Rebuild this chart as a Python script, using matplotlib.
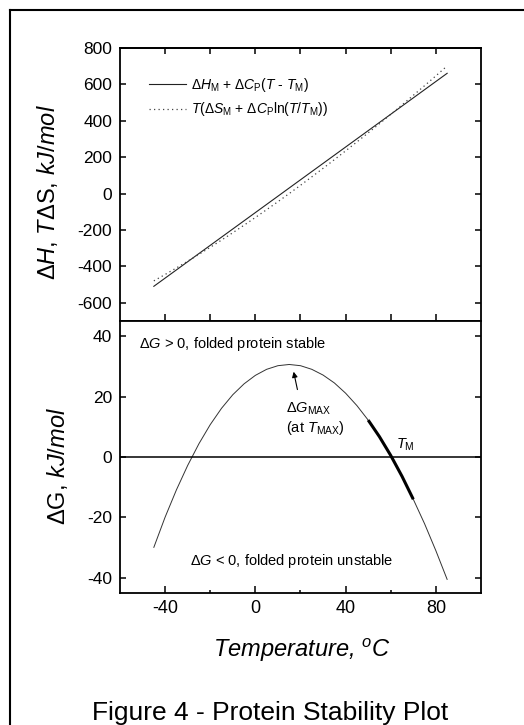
import numpy as np
import matplotlib
matplotlib.use("Agg")
import matplotlib.pyplot as plt
from matplotlib.lines import Line2D

plt.rcParams['font.family'] = ['Liberation Sans', 'DejaVu Sans']
plt.rcParams['mathtext.fontset'] = 'custom'
plt.rcParams['mathtext.rm'] = 'Liberation Sans'
plt.rcParams['mathtext.it'] = 'Liberation Sans:italic'
plt.rcParams['mathtext.bf'] = 'Liberation Sans:bold'
plt.rcParams['axes.unicode_minus'] = False

# Temperature grid, degC
temps = [-45, -40, -35, -30, -25, -20, -15, -10, -5, 0, 5, 10, 15, 20,
         25, 30, 35, 40, 45, 50, 55, 60, 65, 70, 75, 80, 85]

# Enthalpy, kJ/mol
dH = [-509.2, -464.2, -419.2, -374.2, -329.2, -284.2, -239.2, -194.2, -149.2,
      -104.2, -59.2, -14.2, 30.9, 75.9, 120.9, 165.9, 210.9, 255.9, 300.9,
      345.9, 390.9, 435.9, 480.9, 525.9, 570.9, 615.9, 660.9]

# Entropy term T*dS, kJ/mol
TdS = [-479.3, -444.3, -408.3, -371.4, -333.6, -294.9, -255.3, -214.8, -173.4,
       -131.2, -88.2, -44.4, 0.3, 45.7, 91.9, 138.8, 186.4, 234.8, 283.9,
       333.7, 384.2, 435.4, 487.3, 539.9, 593.0, 646.9, 701.4]

# Free energy of unfolding, kJ/mol
dG = [-29.9, -19.9, -10.9, -2.8, 4.4, 10.7, 16.1, 20.6, 24.2, 27.0, 29.0,
      30.2, 30.6, 30.2, 29.0, 27.1, 24.5, 21.1, 17.0, 12.2, 6.7, 0.5, -6.4,
      -14.0, -22.1, -31.0, -40.5]

# range shown in bold around the melting temperature
tm_range = (50, 70)

ticks20 = [-40, -20, 0, 20, 40, 60, 80]

fig = plt.figure(figsize=(5.24, 7.25), dpi=100)
ax1 = fig.add_axes([0.2290, 0.5572, 0.6889, 0.3766])
ax2 = fig.add_axes([0.2290, 0.1821, 0.6889, 0.3752])

# --- panel du haut : dH et TdS
ax1.plot(temps, dH, color='#222222', lw=0.8,
         label='Δ$H_\\mathrm{M}$ + Δ$C_\\mathrm{P}$($T$ - $T_\\mathrm{M}$)')
ax1.plot(temps, TdS, color='#444444', lw=0.9, linestyle=(0, (1, 2.6)),
         label='$T$(Δ$S_\\mathrm{M}$ + Δ$C_\\mathrm{P}$ln($T$/$T_\\mathrm{M}$))')
ax1.set_xlim(-60, 100)
ax1.set_ylim(-700, 800)
ax1.set_yticks(np.arange(-600, 801, 200))
ax1.set_xticks(ticks20)
ax1.tick_params(axis='x', direction='inout', length=10, width=1.1,
                bottom=True, top=False, labelbottom=False)
ax1.tick_params(axis='y', direction='in', length=4.5, width=1.1,
                left=True, right=True, labelsize=12.5, pad=5.5)
top = ax1.secondary_xaxis('top')
top.set_xticks(ticks20)
top.tick_params(direction='in', length=4.5, width=1.1, labeltop=False)
top.spines['top'].set_linewidth(1.3)
ax1.set_ylabel('Δ$H$, $T$ΔS, $kJ/mol$', fontsize=17, va='center')
ax1.yaxis.set_label_coords(-0.2008, 0.4707)
ax1.legend(loc='upper left', bbox_to_anchor=(0.0803, 0.897), frameon=False,
           fontsize=10, handlelength=2.7, handletextpad=0.3,
           labelspacing=0.45, borderpad=0, borderaxespad=0)

# --- panel du bas : dG
t = np.array(temps)
g = np.array(dG)
ax2.plot(t, g, color='#333333', lw=0.7)
m = (t >= tm_range[0]) & (t <= tm_range[1])
ax2.plot(t[m], g[m], color='black', lw=2.2, solid_capstyle='butt')
ax2.axhline(0, color='black', lw=1.1)
ax2.set_xlim(-60, 100)
ax2.set_ylim(-45, 45)
ax2.set_xticks([-40, 0, 40, 80])
ax2.set_xticks([-20, 20, 60], minor=True)
ax2.set_yticks([-40, -20, 0, 20, 40])
ax2.tick_params(axis='x', which='major', direction='in', length=4.7, width=1.1,
                top=False, labelsize=13, pad=5)
ax2.tick_params(axis='x', which='minor', direction='in', length=2.2, width=1.1,
                top=False)
ax2.tick_params(axis='y', direction='in', length=4.5, width=1.1,
                left=True, right=True, labelsize=12.5, pad=5.5)
ax2.set_ylabel('ΔG, $kJ/mol$', fontsize=17, va='center')
ax2.yaxis.set_label_coords(-0.1731, 0.4669)
ax2.set_xlabel('Temperature, $^{o}$C', fontsize=17, fontstyle='italic', va='center')
ax2.xaxis.set_label_coords(0.504, -0.21)

ax2.text(-51.5, 36.2, 'Δ$G$ > 0, folded protein stable', fontsize=10.5, va='baseline')
ax2.text(-28.8, -35.9, 'Δ$G$ < 0, folded protein unstable', fontsize=10.5, va='baseline')
ax2.annotate('', xy=(16.7, 29.1), xytext=(18.9, 21.4),
             arrowprops=dict(arrowstyle='-|>', lw=0.8, color='black', mutation_scale=8))
ax2.text(13.5, 14.6, 'Δ$G_\\mathrm{MAX}$', fontsize=10.5, va='baseline')
ax2.text(13.5, 8.3, '(at $T_\\mathrm{MAX}$)', fontsize=10.5, va='baseline')
ax2.text(62.2, 2.8, '$T_\\mathrm{M}$', fontsize=10.5, va='baseline')

for ax in (ax1, ax2):
    for s in ax.spines.values():
        s.set_linewidth(1.3)

# cadre autour de la figure
x0, y0 = 9.5 / 524, 1 - 10 / 725
fig.add_artist(Line2D([x0, x0], [0, y0], color='black', lw=1.5, transform=fig.transFigure))
fig.add_artist(Line2D([x0, 1], [y0, y0], color='black', lw=1.5, transform=fig.transFigure))

fig.text(270 / 524, 5 / 725, 'Figure 4 - Protein Stability Plot', fontsize=19,
         ha='center', va='baseline')

fig.savefig('out.png', dpi=100)
